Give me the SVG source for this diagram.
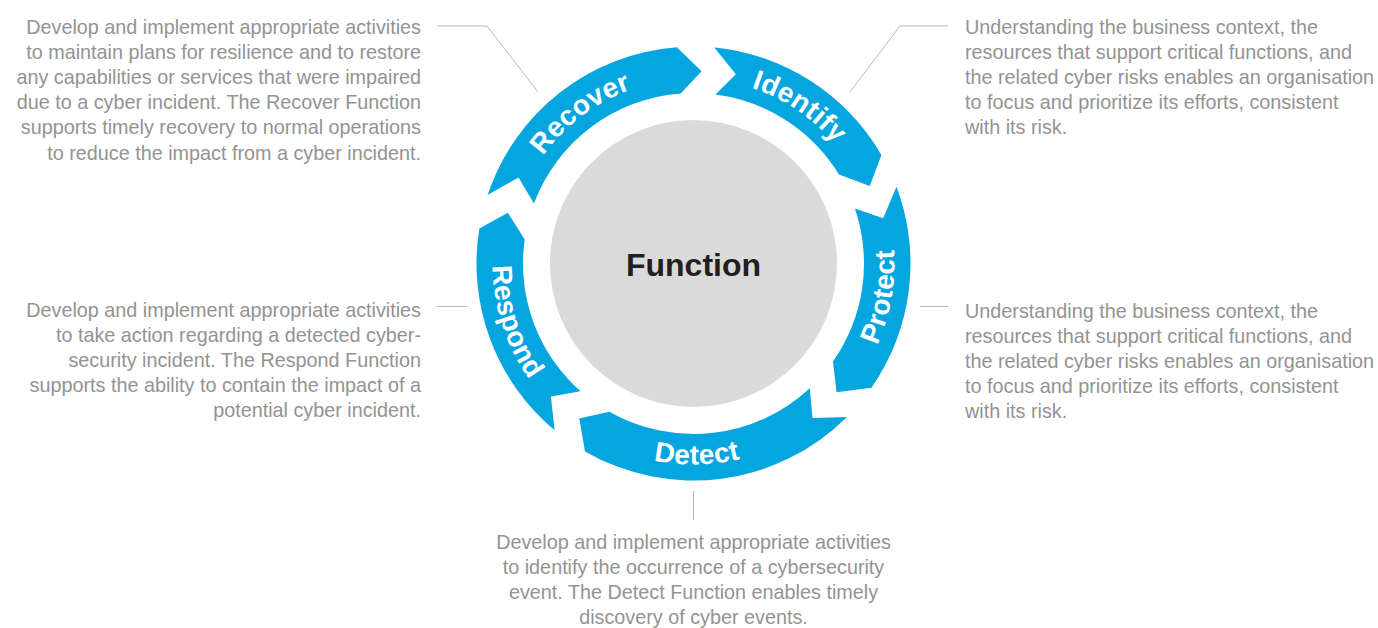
<svg xmlns="http://www.w3.org/2000/svg" xmlns:xlink="http://www.w3.org/1999/xlink" width="1378" height="628" viewBox="0 0 1378 628">
  <style>
    .seg { fill: #05a5e0; }
    .lbl { font-family: "Liberation Sans", Arial, sans-serif; font-size: 28px; font-weight: bold; fill: #ffffff; letter-spacing: 0.3px; }
    .desc { font-family: "Liberation Sans", Arial, sans-serif; font-size: 19.8px; fill: #939393; }
    .end { text-anchor: end; }
    .mid { text-anchor: middle; }
    .lead { fill: none; stroke: #b8b8b8; stroke-width: 1; }
    .core { fill: #dadada; }
    .title { font-family: "Liberation Sans", Arial, sans-serif; font-size: 32px; font-weight: bold; fill: #231f20; text-anchor: middle; }
  </style>
  <defs>
    <!-- baselines for the ring labels (clockwise on top, counter-clockwise elsewhere) -->
    <path id="arc-recover" d="M 513.24 221.88 A 185 185 0 0 1 703.18 78.75"/>
    <path id="arc-identify" d="M 674.16 79.51 A 185 185 0 0 1 871.33 212.51"/>
    <path id="arc-protect" d="M 822.70 417.47 A 201 201 0 0 0 867.57 163.00"/>
    <path id="arc-detect" d="M 567.01 419.71 A 201 201 0 0 0 825.37 415.20"/>
    <path id="arc-respond" d="M 507.14 188.20 A 201 201 0 0 0 586.99 433.96"/>
  </defs>

  <rect width="1378" height="628" fill="#ffffff"/>

  <!-- centre -->
  <g id="function">
    <circle class="core" cx="693.5" cy="263.5" r="143.5"/>
    <text class="title" x="693.5" y="276">Function</text>
  </g>

  <!-- ring of arrow segments -->
  <g id="identify">
    <path class="seg" d="M 714.30 47.50 A 217 217 0 0 1 881.43 155.00 L 869.76 186.12 L 839.00 174.61 A 170.5 170.5 0 0 0 715.46 94.42 L 735.82 74.17 Z"/>
    <text class="lbl"><textPath href="#arc-identify" xlink:href="#arc-identify" startOffset="50%" text-anchor="middle">Identify</textPath></text>
  </g>
  <g id="protect">
    <path class="seg" d="M 896.49 186.80 A 217 217 0 0 1 871.46 387.66 L 836.55 392.31 L 832.99 361.52 A 170.5 170.5 0 0 0 854.90 208.55 L 883.19 218.31 Z"/>
    <text class="lbl"><textPath href="#arc-protect" xlink:href="#arc-protect" startOffset="50%" text-anchor="middle">Protect</textPath></text>
  </g>
  <g id="detect">
    <path class="seg" d="M 846.94 416.94 A 217 217 0 0 1 585.00 451.43 L 579.27 418.44 L 609.28 411.75 A 170.5 170.5 0 0 0 809.78 388.19 L 812.48 418.00 Z"/>
    <text class="lbl"><textPath href="#arc-detect" xlink:href="#arc-detect" startOffset="50%" text-anchor="middle">Detect</textPath></text>
  </g>
  <g id="respond">
    <path class="seg" d="M 554.60 430.22 A 217 217 0 0 1 479.35 228.43 L 507.82 212.70 L 524.70 239.48 A 170.5 170.5 0 0 0 580.52 391.20 L 550.89 396.49 Z"/>
    <text class="lbl"><textPath href="#arc-respond" xlink:href="#arc-respond" startOffset="50%" text-anchor="middle">Respond</textPath></text>
  </g>
  <g id="recover">
    <path class="seg" d="M 487.59 195.00 A 217 217 0 0 1 676.85 47.14 L 701.56 71.17 L 680.72 93.48 A 170.5 170.5 0 0 0 533.90 203.51 L 518.53 177.41 Z"/>
    <text class="lbl"><textPath href="#arc-recover" xlink:href="#arc-recover" startOffset="50%" text-anchor="middle">Recover</textPath></text>
  </g>

  <!-- leader lines -->
  <g id="connectors">
    <polyline class="lead" points="437,26 487,26 538,92"/>
    <polyline class="lead" points="948,26 900,26 850,92"/>
    <line class="lead" x1="437" y1="306.5" x2="467" y2="306.5"/>
    <line class="lead" x1="920" y1="306.5" x2="948" y2="306.5"/>
    <line class="lead" x1="693.5" y1="491" x2="693.5" y2="520"/>
  </g>

  <!-- descriptions -->
  <g id="recover-desc" class="desc end">
    <text x="421" y="33.5">Develop and implement appropriate activities</text>
    <text x="421" y="58.7">to maintain plans for resilience and to restore</text>
    <text x="421" y="83.9">any capabilities or services that were impaired</text>
    <text x="421" y="109.1">due to a cyber incident. The Recover Function</text>
    <text x="421" y="134.3">supports timely recovery to normal operations</text>
    <text x="421" y="159.5">to reduce the impact from a cyber incident.</text>
  </g>
  <g id="identify-desc" class="desc">
    <text x="965" y="33.5">Understanding the business context, the</text>
    <text x="965" y="58.7">resources that support critical functions, and</text>
    <text x="965" y="83.9">the related cyber risks enables an organisation</text>
    <text x="965" y="109.1">to focus and prioritize its efforts, consistent</text>
    <text x="965" y="134.3">with its risk.</text>
  </g>
  <g id="respond-desc" class="desc end">
    <text x="421" y="316.5">Develop and implement appropriate activities</text>
    <text x="421" y="341.7">to take action regarding a detected cyber-</text>
    <text x="421" y="366.9">security incident. The Respond Function</text>
    <text x="421" y="392.1">supports the ability to contain the impact of a</text>
    <text x="421" y="417.3">potential cyber incident.</text>
  </g>
  <g id="protect-desc" class="desc">
    <text x="965" y="317.5">Understanding the business context, the</text>
    <text x="965" y="342.7">resources that support critical functions, and</text>
    <text x="965" y="367.9">the related cyber risks enables an organisation</text>
    <text x="965" y="393.1">to focus and prioritize its efforts, consistent</text>
    <text x="965" y="418.3">with its risk.</text>
  </g>
  <g id="detect-desc" class="desc mid">
    <text x="693.5" y="548.5">Develop and implement appropriate activities</text>
    <text x="693.5" y="573.7">to identify the occurrence of a cybersecurity</text>
    <text x="693.5" y="598.9">event. The Detect Function enables timely</text>
    <text x="693.5" y="624.1">discovery of cyber events.</text>
  </g>
</svg>
